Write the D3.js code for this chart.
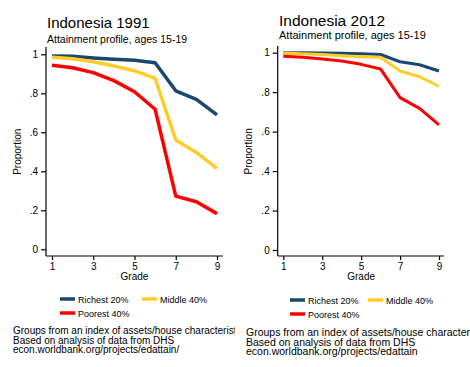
<!DOCTYPE html>
<html>
<head>
<meta charset="utf-8">
<script src="https://cdn.jsdelivr.net/npm/d3@7"></script>
<style>
  body { margin: 0; background: #fff; }
  svg { display: block; font-family: "Liberation Sans", Arial, sans-serif; }
</style>
</head>
<body>
<svg id="chart" width="470" height="367"></svg>
<script>
var grades = [1, 2, 3, 4, 5, 6, 7, 8, 9];
var xTicks = [1, 3, 5, 7, 9];
var yTicks = [0, 0.2, 0.4, 0.6, 0.8, 1];
var yTickLabels = ["0", ".2", ".4", ".6", ".8", "1"];
var seriesNames = ["Richest 20%", "Middle 40%", "Poorest 40%"];
var seriesColors = ["#1a476f", "#ffcc29", "#ff0000"];

// 1991
var richest1991 = [0.991, 0.990, 0.981, 0.974, 0.969, 0.957, 0.813, 0.769, 0.689];
var middle1991  = [0.985, 0.977, 0.962, 0.940, 0.916, 0.877, 0.560, 0.497, 0.415];
var poorest1991 = [0.944, 0.931, 0.906, 0.865, 0.808, 0.718, 0.273, 0.244, 0.183];

// 2012
var richest2012 = [1.000, 1.000, 0.998, 0.997, 0.995, 0.991, 0.954, 0.939, 0.907];
var middle2012  = [0.998, 0.995, 0.991, 0.985, 0.980, 0.977, 0.907, 0.878, 0.830];
var poorest2012 = [0.982, 0.977, 0.968, 0.958, 0.941, 0.917, 0.772, 0.718, 0.634];

var notes = ["Groups from an index of assets/house characteristic",
             "Based on analysis of data from DHS"];
var notes1991 = notes.concat(["econ.worldbank.org/projects/edattain/"]);
var notes2012 = notes.concat(["econ.worldbank.org/projects/edattain"]);

var svg = d3.select("#chart");

function drawPanel(p) {
  svg.append("clipPath").attr("id", "clip" + p.id)
    .append("rect").attr("x", 0).attr("y", 0).attr("width", p.w).attr("height", 367);

  var g = svg.append("g")
    .attr("transform", "translate(" + p.left + ",0)")
    .attr("clip-path", "url(#clip" + p.id + ")");

  var x = d3.scaleLinear().domain([1, 9]).range([p.x1, p.x9]);
  var y = d3.scaleLinear().domain([0, 1]).range([p.y0, p.y1]);

  g.append("text").attr("x", p.tx).attr("y", p.ty)
    .attr("font-size", p.titleSize).text(p.title);
  g.append("text").attr("x", p.tx).attr("y", p.ty + p.subGap)
    .attr("font-size", p.subSize).text("Attainment profile, ages 15-19");

  // y axis
  var yAxis = d3.axisLeft(y).tickValues(yTicks)
    .tickFormat(function(d, i) { return yTickLabels[i]; })
    .tickSize(5).tickPadding(3);
  var ya = g.append("g").attr("transform", "translate(" + p.axX + ",0)").call(yAxis);
  ya.select(".domain").attr("d", "M0," + p.axYbot + "V" + p.axYtop);
  ya.selectAll("text").attr("font-size", 10).attr("fill", "#000");

  // x axis
  var xAxis = d3.axisBottom(x).tickValues(xTicks).tickSize(4).tickPadding(3);
  var xa = g.append("g").attr("transform", "translate(0," + p.axYbot + ")").call(xAxis);
  xa.select(".domain").attr("d", "M" + p.axX + ",0H" + p.axXr);
  xa.selectAll("text").attr("font-size", 10).attr("fill", "#000");
  g.selectAll(".domain, .tick line").attr("stroke", "#000").attr("stroke-width", 1.2);

  g.append("text").attr("x", (p.x1 + p.x9) / 2).attr("y", p.axYbot + 24)
    .attr("text-anchor", "middle").attr("font-size", 10).text("Grade");
  g.append("text")
    .attr("transform", "translate(" + p.ylx + "," + y(0.5) + ") rotate(-90)")
    .attr("text-anchor", "middle").attr("font-size", 10).text("Proportion");

  var line = d3.line()
    .x(function(d, i) { return x(grades[i]); })
    .y(function(d) { return y(d); });

  // poorest on top is drawn last in reference? draw richest first
  p.series.forEach(function(s, i) {
    g.append("path").datum(s)
      .attr("fill", "none")
      .attr("stroke", seriesColors[i])
      .attr("stroke-width", p.lw)
      .attr("stroke-linejoin", "round")
      .attr("d", line);
  });

  // legend
  var legPos = [[p.lgx, p.lgy], [p.lgx2, p.lgy], [p.lgx, p.lgy + 14]];
  seriesNames.forEach(function(n, i) {
    var lg = g.append("g").attr("transform", "translate(" + legPos[i][0] + "," + legPos[i][1] + ")");
    lg.append("line").attr("x1", 0).attr("x2", 15).attr("y1", 0).attr("y2", 0)
      .attr("stroke", seriesColors[i]).attr("stroke-width", 3.5);
    lg.append("text").attr("x", 18).attr("y", 3.5).attr("font-size", 9).text(n);
  });

  p.notes.forEach(function(t, i) {
    g.append("text").attr("x", p.nx).attr("y", p.ny + i * 9.5)
      .attr("font-size", p.noteSize).text(t);
  });
}

drawPanel({
  id: 1, left: 0, w: 235,
  title: "Indonesia 1991", tx: 47, ty: 28, titleSize: 15, subGap: 15, subSize: 10.5,
  x1: 52, x9: 217, y0: 249.3, y1: 54.3,
  axX: 46, axXr: 223, axYbot: 256, axYtop: 47, ylx: 21,
  series: [richest1991, middle1991, poorest1991], lw: 3.5,
  lgx: 60, lgx2: 142, lgy: 299,
  notes: notes1991, nx: 13, ny: 334, noteSize: 10
});

drawPanel({
  id: 2, left: 235, w: 235,
  title: "Indonesia 2012", tx: 44, ty: 26, titleSize: 15.5, subGap: 13, subSize: 11,
  x1: 48.3, x9: 204, y0: 250, y1: 52.7,
  axX: 42.7, axXr: 209, axYbot: 256, axYtop: 46, ylx: 17,
  series: [richest2012, middle2012, poorest2012], lw: 3,
  lgx: 55, lgx2: 133, lgy: 300,
  notes: notes2012, nx: 11, ny: 336, noteSize: 10.5
});
</script>
</body>
</html>
